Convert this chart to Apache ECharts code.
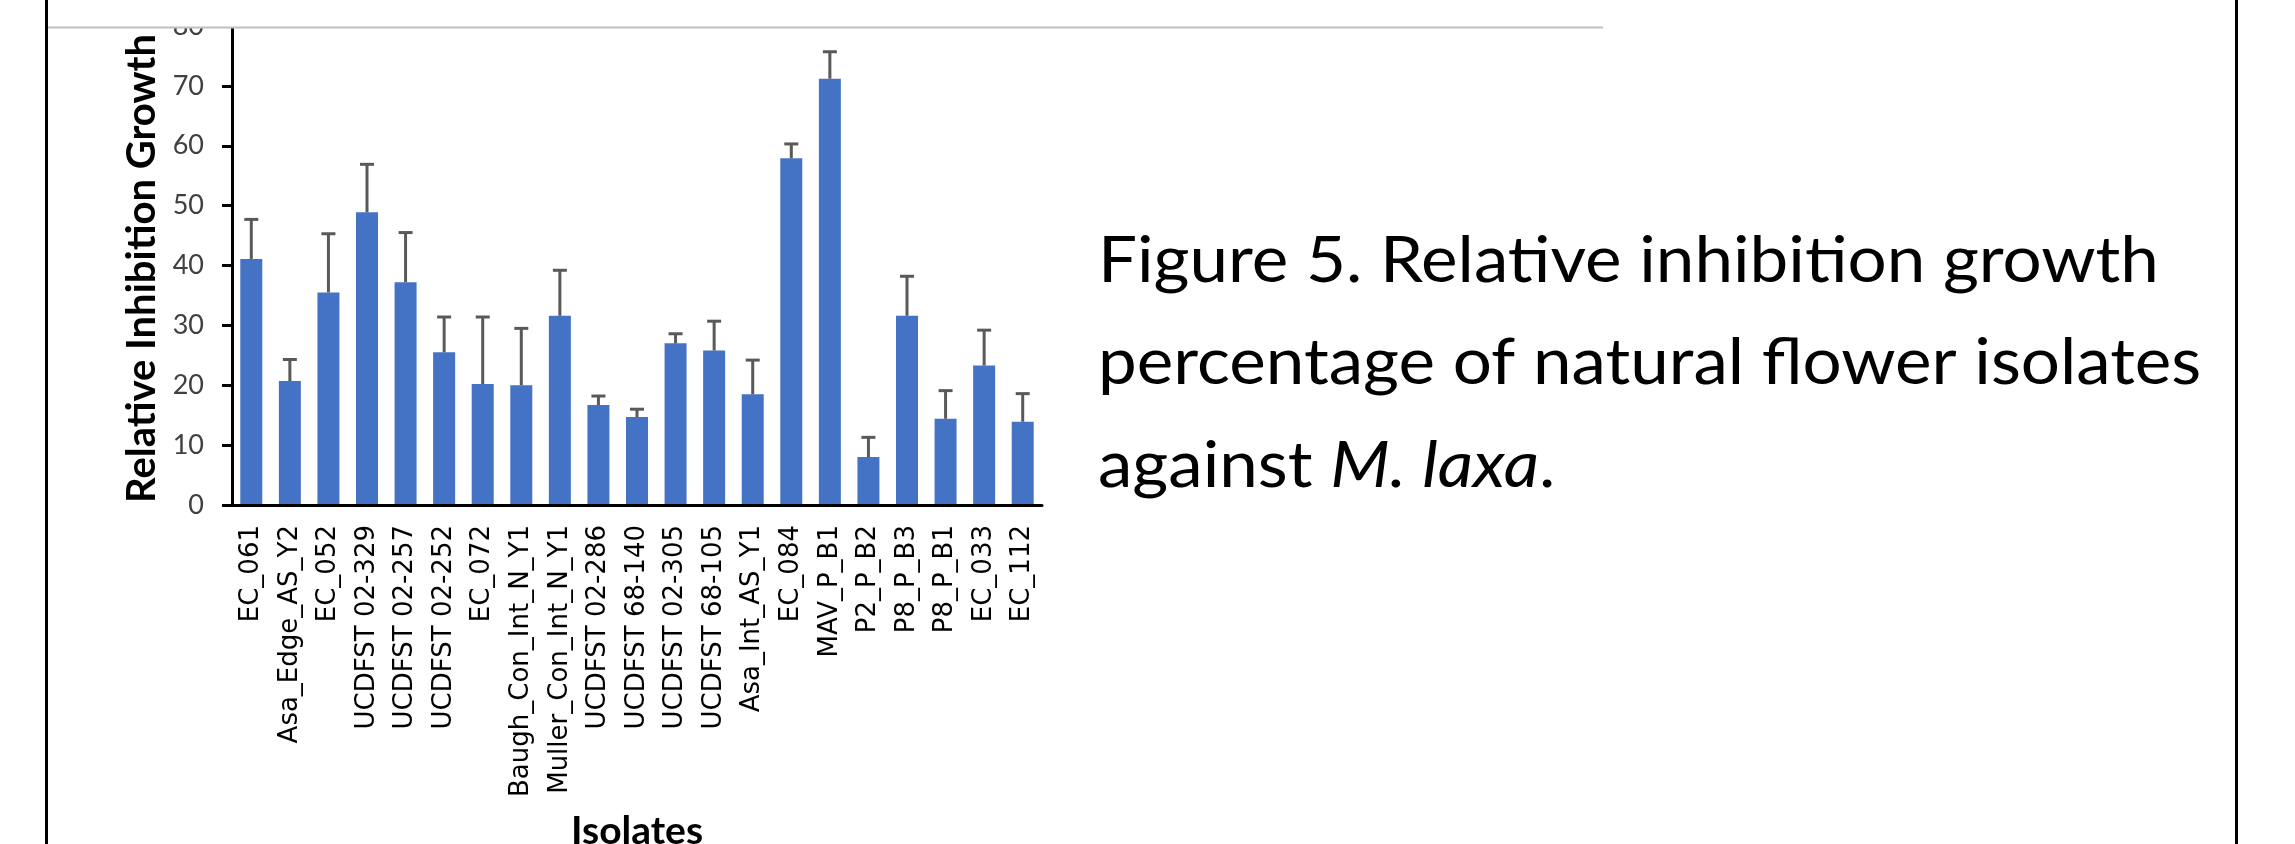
<!DOCTYPE html>
<html>
<head>
<meta charset="utf-8">
<script src="https://cdn.jsdelivr.net/npm/echarts@6.0.0/dist/echarts.min.js"></script>
<style>
  html, body { margin: 0; padding: 0; background: #fff; }
  #chart { width: 2295px; height: 844px; }
</style>
</head>
<body>
<div id="chart"></div>
<script>
// isolates on the x axis
const categories = [
  'EC_061', 'Asa_Edge_AS_Y2', 'EC_052', 'UCDFST 02-329', 'UCDFST 02-257',
  'UCDFST 02-252', 'EC_072', 'Baugh_Con_Int_N_Y1', 'Muller_Con_Int_N_Y1',
  'UCDFST 02-286', 'UCDFST 68-140', 'UCDFST 02-305', 'UCDFST 68-105',
  'Asa_Int_AS_Y1', 'EC_084', 'MAV_P_B1', 'P2_P_B2', 'P8_P_B3', 'P8_P_B1',
  'EC_033', 'EC_112'
]
// mean relative inhibition (%)
const inhibition = [
  41.1, 20.7, 35.5, 48.9, 37.2, 25.5, 20.2, 20.0, 31.6, 16.7, 14.7,
  27.0, 25.8, 18.5, 57.9, 71.2, 8.0, 31.6, 14.4, 23.3, 13.9
]
// upper error bar length
const errUpper = [
  6.6, 3.6, 9.8, 8.0, 8.3, 5.9, 11.2, 9.5, 7.6, 1.5, 1.3,
  1.6, 4.9, 5.7, 2.4, 4.5, 3.3, 6.6, 4.7, 5.9, 4.7
]
// y axis ticks
const yMin = 0
const yMax = 80
const yStep = 10

const chart = echarts.init(document.getElementById('chart'))

const errData = categories.map((c, i) => [i, inhibition[i], errUpper[i]])

// plus-only error bars, drawn through the axis scales
const renderErr = (params, api) => {
  const i = api.value(0)
  const v = api.value(1)
  const e = api.value(2)
  const base = api.coord([i, v])
  const top = api.coord([i, v + e])
  const half = 7
  const st = { stroke: '#595959', lineWidth: 3 }
  return {
    type: 'group',
    children: [
      { type: 'line', shape: { x1: base[0], y1: base[1], x2: top[0], y2: top[1] }, style: st },
      { type: 'line', shape: { x1: top[0] - half, y1: top[1], x2: top[0] + half, y2: top[1] }, style: st }
    ]
  }
}

const titleFont = { fontFamily: 'Lato', fontSize: 64, fill: '#000' }
const titleScale = 1.08

const option = {
  animation: false,
  backgroundColor: '#fff',
  grid: { left: 232, right: 1253, top: 26, bottom: 339, containLabel: false },
  xAxis: {
    type: 'category',
    data: categories,
    z: 5,
    axisLine: { lineStyle: { color: '#000', width: 3 } },
    axisTick: { length: 11, lineStyle: { color: '#000', width: 3 } },
    axisLabel: {
      interval: 0,
      rotate: 90,
      margin: 20,
      fontFamily: 'DejaVu Sans',
      fontSize: 26,
      color: '#000'
    }
  },
  yAxis: {
    type: 'value',
    min: yMin,
    max: yMax,
    interval: yStep,
    z: 5,
    axisLine: { show: true, lineStyle: { color: '#000', width: 3 } },
    axisTick: { show: true, length: 10, lineStyle: { color: '#000', width: 3 } },
    splitLine: { show: false },
    axisLabel: {
      margin: 28,
      fontFamily: 'Lato',
      fontSize: 27,
      color: '#404040'
    }
  },
  series: [
    {
      type: 'bar',
      data: inhibition,
      barWidth: 22,
      itemStyle: { color: '#4472C4' }
    },
    {
      type: 'custom',
      data: errData,
      encode: { x: 0, y: 1 },
      renderItem: renderErr,
      z: 3
    }
  ],
  graphic: [
    {
      type: 'text',
      x: 142,
      y: 503,
      rotation: Math.PI / 2,
      z: 50,
      style: {
        text: 'Relative Inhibition Growth (%)',
        fontFamily: 'Lato',
        fontWeight: 'bold',
        fontSize: 40,
        fill: '#000',
        textAlign: 'left',
        textVerticalAlign: 'middle'
      }
    },
    {
      type: 'text',
      x: 637,
      y: 831,
      z: 50,
      style: {
        text: 'Isolates',
        fontFamily: 'Lato',
        fontWeight: 'bold',
        fontSize: 39,
        fill: '#000',
        textAlign: 'center',
        textVerticalAlign: 'middle'
      }
    },
    // caption text box
    {
      type: 'text', x: 1098, y: 261, scaleX: titleScale, z: 50,
      style: Object.assign({ text: 'Figure 5. Relative inhibition growth', textAlign: 'left', textVerticalAlign: 'middle' }, titleFont)
    },
    {
      type: 'text', x: 1098, y: 363, scaleX: titleScale, z: 50,
      style: Object.assign({ text: 'percentage of natural flower isolates', textAlign: 'left', textVerticalAlign: 'middle' }, titleFont)
    },
    {
      type: 'text', x: 1098, y: 466, scaleX: titleScale, z: 50,
      style: Object.assign({
        text: 'against {i|M. laxa}.',
        textAlign: 'left',
        textVerticalAlign: 'middle',
        rich: { i: { fontFamily: 'Lato', fontSize: 64, fontStyle: 'italic', fill: '#000' } }
      }, titleFont)
    },
    // white band above the cropped chart top
    { type: 'rect', z: 100, shape: { x: 0, y: 0, width: 2295, height: 27 }, style: { fill: '#fff' } },
    { type: 'line', z: 101, shape: { x1: 48, y1: 27.5, x2: 1603, y2: 27.5 }, style: { stroke: '#c0c0c0', lineWidth: 2 } },
    // slide borders
    { type: 'line', z: 101, shape: { x1: 46.5, y1: 0, x2: 46.5, y2: 844 }, style: { stroke: '#000', lineWidth: 3 } },
    { type: 'line', z: 101, shape: { x1: 2236.5, y1: 0, x2: 2236.5, y2: 844 }, style: { stroke: '#000', lineWidth: 3 } }
  ]
}

chart.setOption(option)
window.addEventListener('resize', () => chart.resize())
</script>
</body>
</html>
